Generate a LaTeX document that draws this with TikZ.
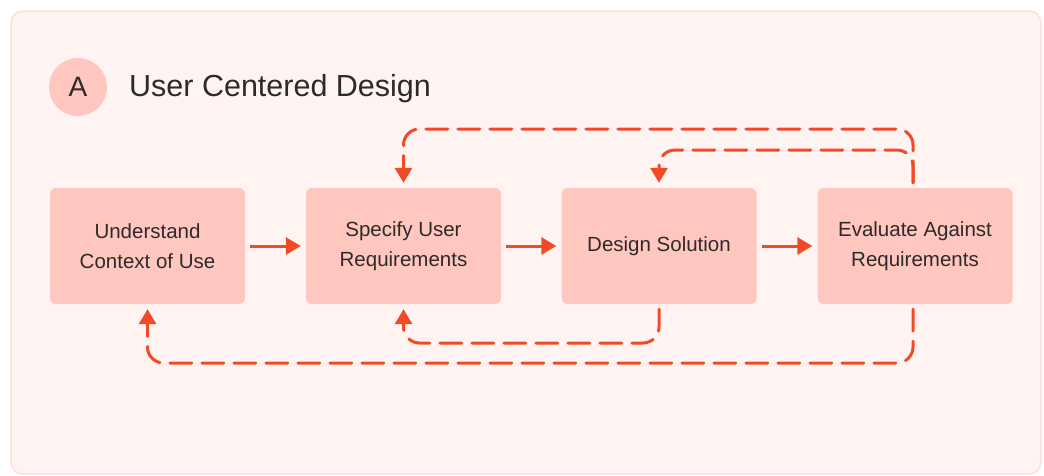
\documentclass[tikz,border=0pt]{standalone}
\usepackage{fontspec}
\setmainfont{Liberation Sans}
\usetikzlibrary{arrows.meta,calc}
\definecolor{panelbg}{HTML}{FFF4F2}
\definecolor{panelrim}{HTML}{FFD9D4}
\definecolor{boxfill}{HTML}{FFC7C0}
\definecolor{flow}{HTML}{F24A24}
\definecolor{ink}{HTML}{2E2A2A}
\tikzset{
  stepbox/.style={fill=boxfill, rounded corners=6pt, minimum width=195pt, minimum height=116pt,
    inner sep=0pt, align=center, text=ink, font=\fontsize{20.5}{30}\selectfont},
  flowarrow/.style={draw=flow, line width=3pt, -{Triangle[length=15pt,width=17pt]},
    shorten <=5pt, shorten >=5pt},
  loopback/.style={flowarrow, dash pattern=on 22pt off 10pt, rounded corners=16pt, line cap=round},
}
\begin{document}
\begin{tikzpicture}[x=1pt,y=-1pt]
\useasboundingbox (0,0) rectangle (1044,475);
% panel
\draw[fill=panelbg, draw=panelrim, line width=1.2pt, rounded corners=12pt] (11,11) rectangle (1041,474);
% heading
\node[circle, fill=boxfill, minimum size=58pt, inner sep=0pt, text=ink, font=\fontsize{28}{30}\selectfont] (badge) at (78,87) {A};
\node[anchor=west, text=ink, font=\fontsize{30.5}{34}\selectfont, inner sep=0pt] (title) at (129,89) {User Centered Design};
% process steps
\node[stepbox] (s1) at (147.5,246) {Understand\\Context of Use};
\node[stepbox] (s2) at (403.5,246) {Specify User\\Requirements};
\node[stepbox] (s3) at (659,246) {Design Solution};
\node[stepbox] (s4) at (915,246) {Evaluate Against\\Requirements};
% forward flow
\draw[flowarrow] (s1) -- (s2);
\draw[flowarrow] (s2) -- (s3);
\draw[flowarrow] (s3) -- (s4);
% iteration loops
\coordinate (c4n) at ($(s4.north)+(-2,0)$);
\coordinate (c4s) at ($(s4.south)+(-2,0)$);
\draw[loopback] (c4n) -- (c4n |- 0,129) -- (s2.north |- 0,129) -- (s2.north);
\draw[loopback] (c4n) -- (c4n |- 0,150) -- (s3.north |- 0,150) -- (s3.north);
\draw[loopback] (s3.south) -- (s3.south |- 0,343) -- (s2.south |- 0,343) -- (s2.south);
\draw[loopback] (c4s) -- (c4s |- 0,363) -- (s1.south |- 0,363) -- (s1.south);
\end{tikzpicture}
\end{document}
